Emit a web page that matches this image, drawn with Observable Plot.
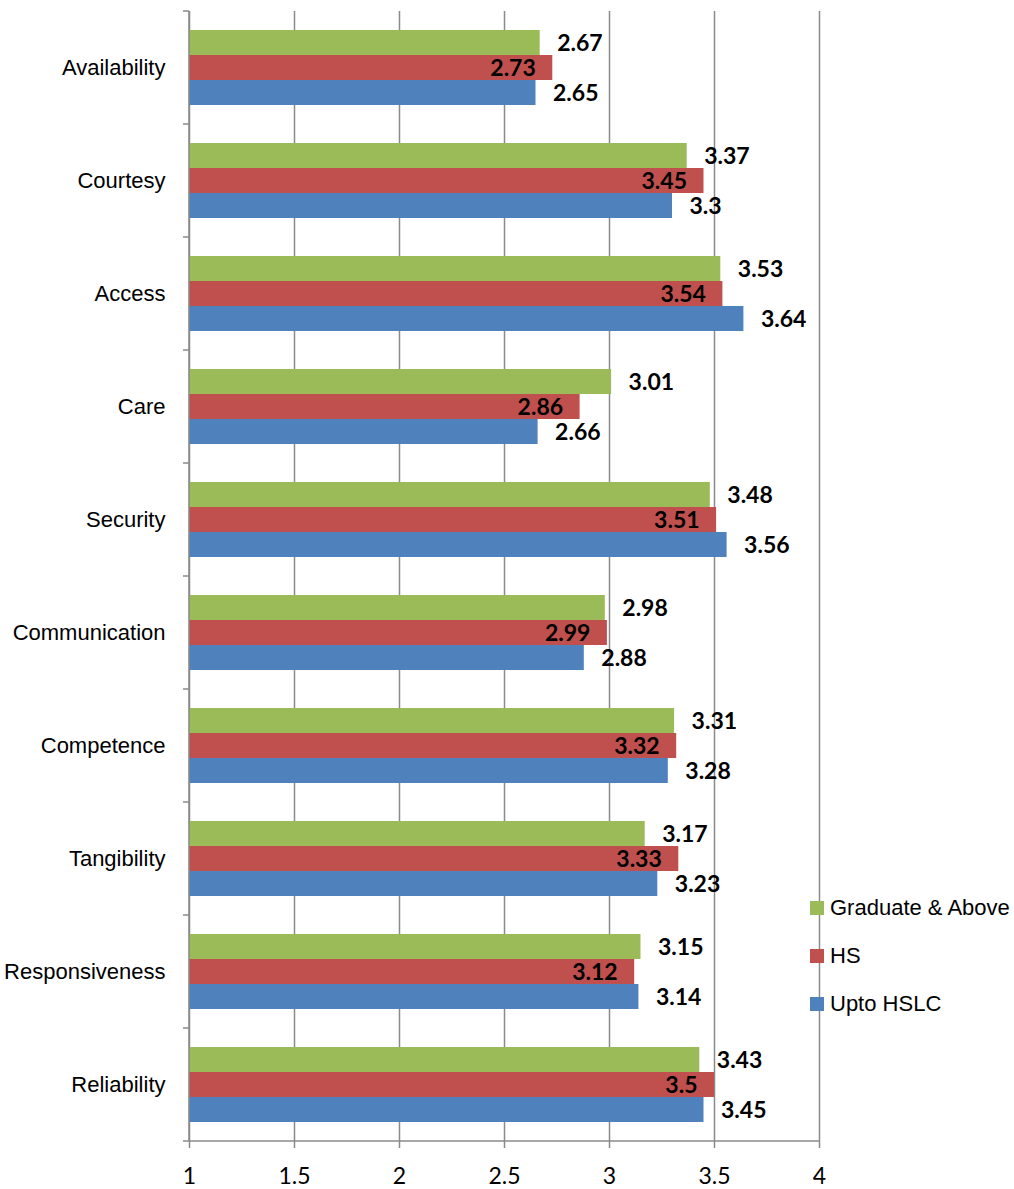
<!DOCTYPE html>
<html>
<head>
<meta charset="utf-8">
<script src="https://cdn.jsdelivr.net/npm/d3@7"></script>
<script src="https://cdn.jsdelivr.net/npm/@observablehq/plot@0.6"></script>
<style>
  html, body { margin: 0; padding: 0; background: #fff; }
  #wrap { position: relative; width: 1014px; height: 1189px; }
  #legend { position: absolute; left: 810px; top: 884px; font-family: "Liberation Sans", Arial, sans-serif; font-size: 22px; color: #000; }
  #legend .item { display: flex; align-items: center; height: 48px; }
  #legend .sw { width: 14px; height: 14px; margin-right: 6px; }
</style>
</head>
<body>
<div id="wrap"><div id="chart"></div><div id="legend"></div></div>
<script>
const categories = ["Availability", "Courtesy", "Access", "Care", "Security", "Communication", "Competence", "Tangibility", "Responsiveness", "Reliability"];
const seriesNames = ["Graduate & Above", "HS", "Upto HSLC"];
const graduate = [2.67, 3.37, 3.53, 3.01, 3.48, 2.98, 3.31, 3.17, 3.15, 3.43];
const hs       = [2.73, 3.45, 3.54, 2.86, 3.51, 2.99, 3.32, 3.33, 3.12, 3.5];
const upto     = [2.65, 3.3, 3.64, 2.66, 3.56, 2.88, 3.28, 3.23, 3.14, 3.45];
const xTicks = [1, 1.5, 2, 2.5, 3, 3.5, 4];
const colors = ["#9BBB59", "#C0504D", "#4F81BD"];

const seriesValues = [graduate, hs, upto];
const data = [];
categories.forEach((c, i) => {
  seriesNames.forEach((s, j) => data.push({category: c, series: s, value: seriesValues[j][i]}));
});

const labelFont = "Lato, 'Open Sans', sans-serif";
const chart = Plot.plot({
  width: 1014,
  height: 1189,
  marginLeft: 189,
  marginRight: 195,
  marginTop: 10,
  marginBottom: 47,
  style: {background: "white", color: "black"},
  x: {domain: [1, 4], axis: null},
  fy: {domain: categories, padding: 0, axis: null},
  y: {domain: seriesNames, paddingInner: 0, paddingOuter: 0.76, axis: null},
  color: {domain: seriesNames, range: colors},
  marks: [
    Plot.gridX(xTicks, {stroke: "#8a8a8a", strokeOpacity: 1, strokeWidth: 1.5}),
    Plot.barX(data, {fy: "category", y: "series", x1: 1, x2: "value", fill: "series", inset: 0}),
    Plot.text(data.filter(d => d.series !== "HS"), {fy: "category", y: "series", x: "value", text: d => String(d.value), textAnchor: "start", dx: 17, dy: 1, fontSize: 23, fontWeight: "bold", fontFamily: labelFont, fill: "black"}),
    Plot.text(data.filter(d => d.series === "HS"), {fy: "category", y: "series", x: "value", text: d => String(d.value), textAnchor: "end", dx: -17, dy: 1, fontSize: 23, fontWeight: "bold", fontFamily: labelFont, fill: "black"}),
    Plot.axisFy({anchor: "left", tickSize: 0, tickPadding: 24, fontSize: 22, fontFamily: "Liberation Sans, Arial, sans-serif", label: null}),
    Plot.axisX(xTicks, {anchor: "bottom", tickSize: 7, tickPadding: 19, stroke: "#8a8a8a", strokeWidth: 1.5, fontSize: 23, fontFamily: labelFont, label: null, tickFormat: d => String(d)})
  ]
});
document.getElementById("chart").appendChild(chart);

// axis lines and category boundary ticks
const svg = d3.select(chart);
const xs = chart.scale("x");
const fys = chart.scale("fy");
const x0 = xs.apply(1), x1 = xs.apply(4);
const bounds = categories.map(c => fys.apply(c));
bounds.push(fys.apply(categories[categories.length - 1]) + fys.bandwidth);
const yTop = bounds[0], yBot = bounds[bounds.length - 1];
const g = svg.append("g").attr("stroke", "#8a8a8a").attr("stroke-width", 1.5);
g.append("line").attr("x1", x0).attr("x2", x0).attr("y1", yTop).attr("y2", yBot);
g.append("line").attr("x1", x0).attr("x2", x1).attr("y1", yBot).attr("y2", yBot);
bounds.forEach(b => g.append("line").attr("x1", x0 - 6).attr("x2", x0).attr("y1", b).attr("y2", b));

// legend
const legend = d3.select("#legend");
seriesNames.forEach((s, i) => {
  const it = legend.append("div").attr("class", "item");
  it.append("div").attr("class", "sw").style("background", colors[i]);
  it.append("span").text(s);
});
</script>
</body>
</html>
